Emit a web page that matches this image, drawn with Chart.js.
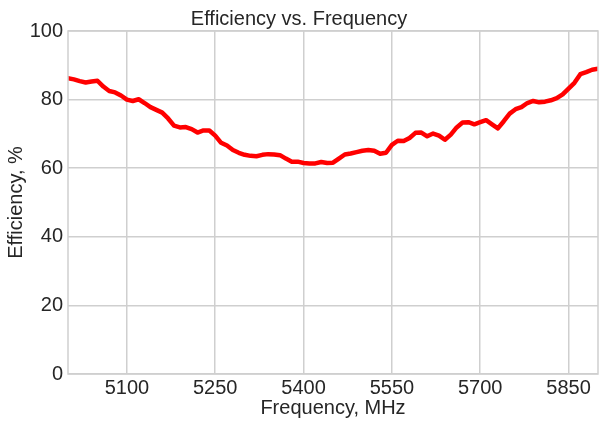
<!DOCTYPE html>
<html>
<head>
<meta charset="utf-8">
<script src="https://cdn.jsdelivr.net/npm/chart.js@4/dist/chart.umd.min.js"></script>
<style>
  body { margin: 0; background: #fff; }
  #wrap { width: 600px; height: 423px; }
</style>
</head>
<body>
<div id="wrap"><canvas id="eff-chart" width="600" height="423"></canvas></div>
<script>
// frequency in MHz, 10 MHz steps
const freqs = [
  5000, 5010, 5020, 5030, 5040, 5050, 5060, 5070, 5080, 5090,
  5100, 5110, 5120, 5130, 5140, 5150, 5160, 5170, 5180, 5190,
  5200, 5210, 5220, 5230, 5240, 5250, 5260, 5270, 5280, 5290,
  5300, 5310, 5320, 5330, 5340, 5350, 5360, 5370, 5380, 5390,
  5400, 5410, 5420, 5430, 5440, 5450, 5460, 5470, 5480, 5490,
  5500, 5510, 5520, 5530, 5540, 5550, 5560, 5570, 5580, 5590,
  5600, 5610, 5620, 5630, 5640, 5650, 5660, 5670, 5680, 5690,
  5700, 5710, 5720, 5730, 5740, 5750, 5760, 5770, 5780, 5790,
  5800, 5810, 5820, 5830, 5840, 5850, 5860, 5870, 5880, 5890,
  5900
];
// efficiency in %
const efficiency = [
  86.2, 85.9, 85.4, 85.0, 85.3, 85.5, 83.8, 82.5, 82.1, 81.2,
  80.0, 79.6, 80.1, 79.0, 77.8, 77.0, 76.2, 74.5, 72.4, 71.9,
  72.0, 71.4, 70.4, 71.0, 71.0, 69.5, 67.4, 66.6, 65.3, 64.5,
  63.9, 63.6, 63.5, 63.9, 64.1, 64.0, 63.8, 62.8, 61.9, 61.9,
  61.5, 61.4, 61.4, 61.8, 61.5, 61.6, 62.8, 64.0, 64.3, 64.7,
  65.1, 65.3, 65.1, 64.2, 64.5, 66.8, 68.0, 67.9, 68.8, 70.3,
  70.4, 69.3, 70.1, 69.5, 68.3, 69.8, 71.9, 73.3, 73.4, 72.8,
  73.4, 74.0, 72.8, 71.6, 73.7, 75.9, 77.2, 77.8, 79.0, 79.6,
  79.2, 79.4, 79.8, 80.4, 81.5, 83.2, 84.9, 87.4, 88.0, 88.7,
  89.0
];
const xTicks = [5100, 5250, 5400, 5550, 5700, 5850];
const yTicks = [0, 20, 40, 60, 80, 100];

const textColor = '#262626';
const gridColor = '#cfcfcf';
const fontFamily = '"Liberation Sans", Arial, Helvetica, sans-serif';

// light grey frame round the plot area
const frame = {
  id: 'frame',
  afterDraw(chart) {
    const {ctx, chartArea: a} = chart;
    ctx.save();
    ctx.strokeStyle = gridColor;
    ctx.lineWidth = 1.5;
    ctx.strokeRect(a.left, a.top, a.right - a.left, a.bottom - a.top);
    ctx.restore();
  }
};

const config = {
  type: 'line',
  data: {
    datasets: [{
      label: 'Efficiency',
      data: freqs.map((f, i) => ({x: f, y: efficiency[i]})),
      borderColor: '#ff0000',
      borderWidth: 4.5,
      tension: 0,
      pointRadius: 0,
      borderJoinStyle: 'round',
      borderCapStyle: 'round'
    }]
  },
  options: {
    responsive: false,
    animation: false,
    devicePixelRatio: 1,
    layout: { padding: { left: 0, right: 2, top: 0, bottom: 0 } },
    plugins: {
      legend: { display: false },
      tooltip: { enabled: false },
      title: {
        display: true,
        text: 'Efficiency vs. Frequency',
        color: textColor,
        font: { family: fontFamily, size: 20, weight: 'normal' },
        padding: { top: 7, bottom: 0 }
      }
    },
    scales: {
      x: {
        type: 'linear',
        min: 5000,
        max: 5900,
        afterBuildTicks: s => { s.ticks = xTicks.map(v => ({value: v})); },
        afterFit: s => { s.height = 49; },
        grid: { color: gridColor, lineWidth: 1.5, drawTicks: false },
        border: { display: false },
        ticks: {
          color: textColor,
          font: { family: fontFamily, size: 20 },
          padding: 2,
          maxRotation: 0,
          callback: v => String(v)
        },
        title: {
          display: true,
          text: 'Frequency, MHz',
          color: textColor,
          font: { family: fontFamily, size: 20 },
          padding: { top: 0, bottom: 3 }
        }
      },
      y: {
        min: 0,
        max: 100,
        afterBuildTicks: s => { s.ticks = yTicks.map(v => ({value: v})); },
        afterFit: s => { s.width = 68; },
        grid: { color: gridColor, lineWidth: 1.5, drawTicks: false },
        border: { display: false },
        ticks: {
          color: textColor,
          font: { family: fontFamily, size: 20 },
          padding: 5
        },
        title: {
          display: true,
          text: 'Efficiency, %',
          color: textColor,
          font: { family: fontFamily, size: 20 },
          padding: { top: 4, bottom: 0 }
        }
      }
    }
  },
  plugins: [frame]
};

const effChart = document.querySelector('#eff-chart');
if (effChart) {
  const chartOb = new Chart(effChart, config);
}
</script>
</body>
</html>
